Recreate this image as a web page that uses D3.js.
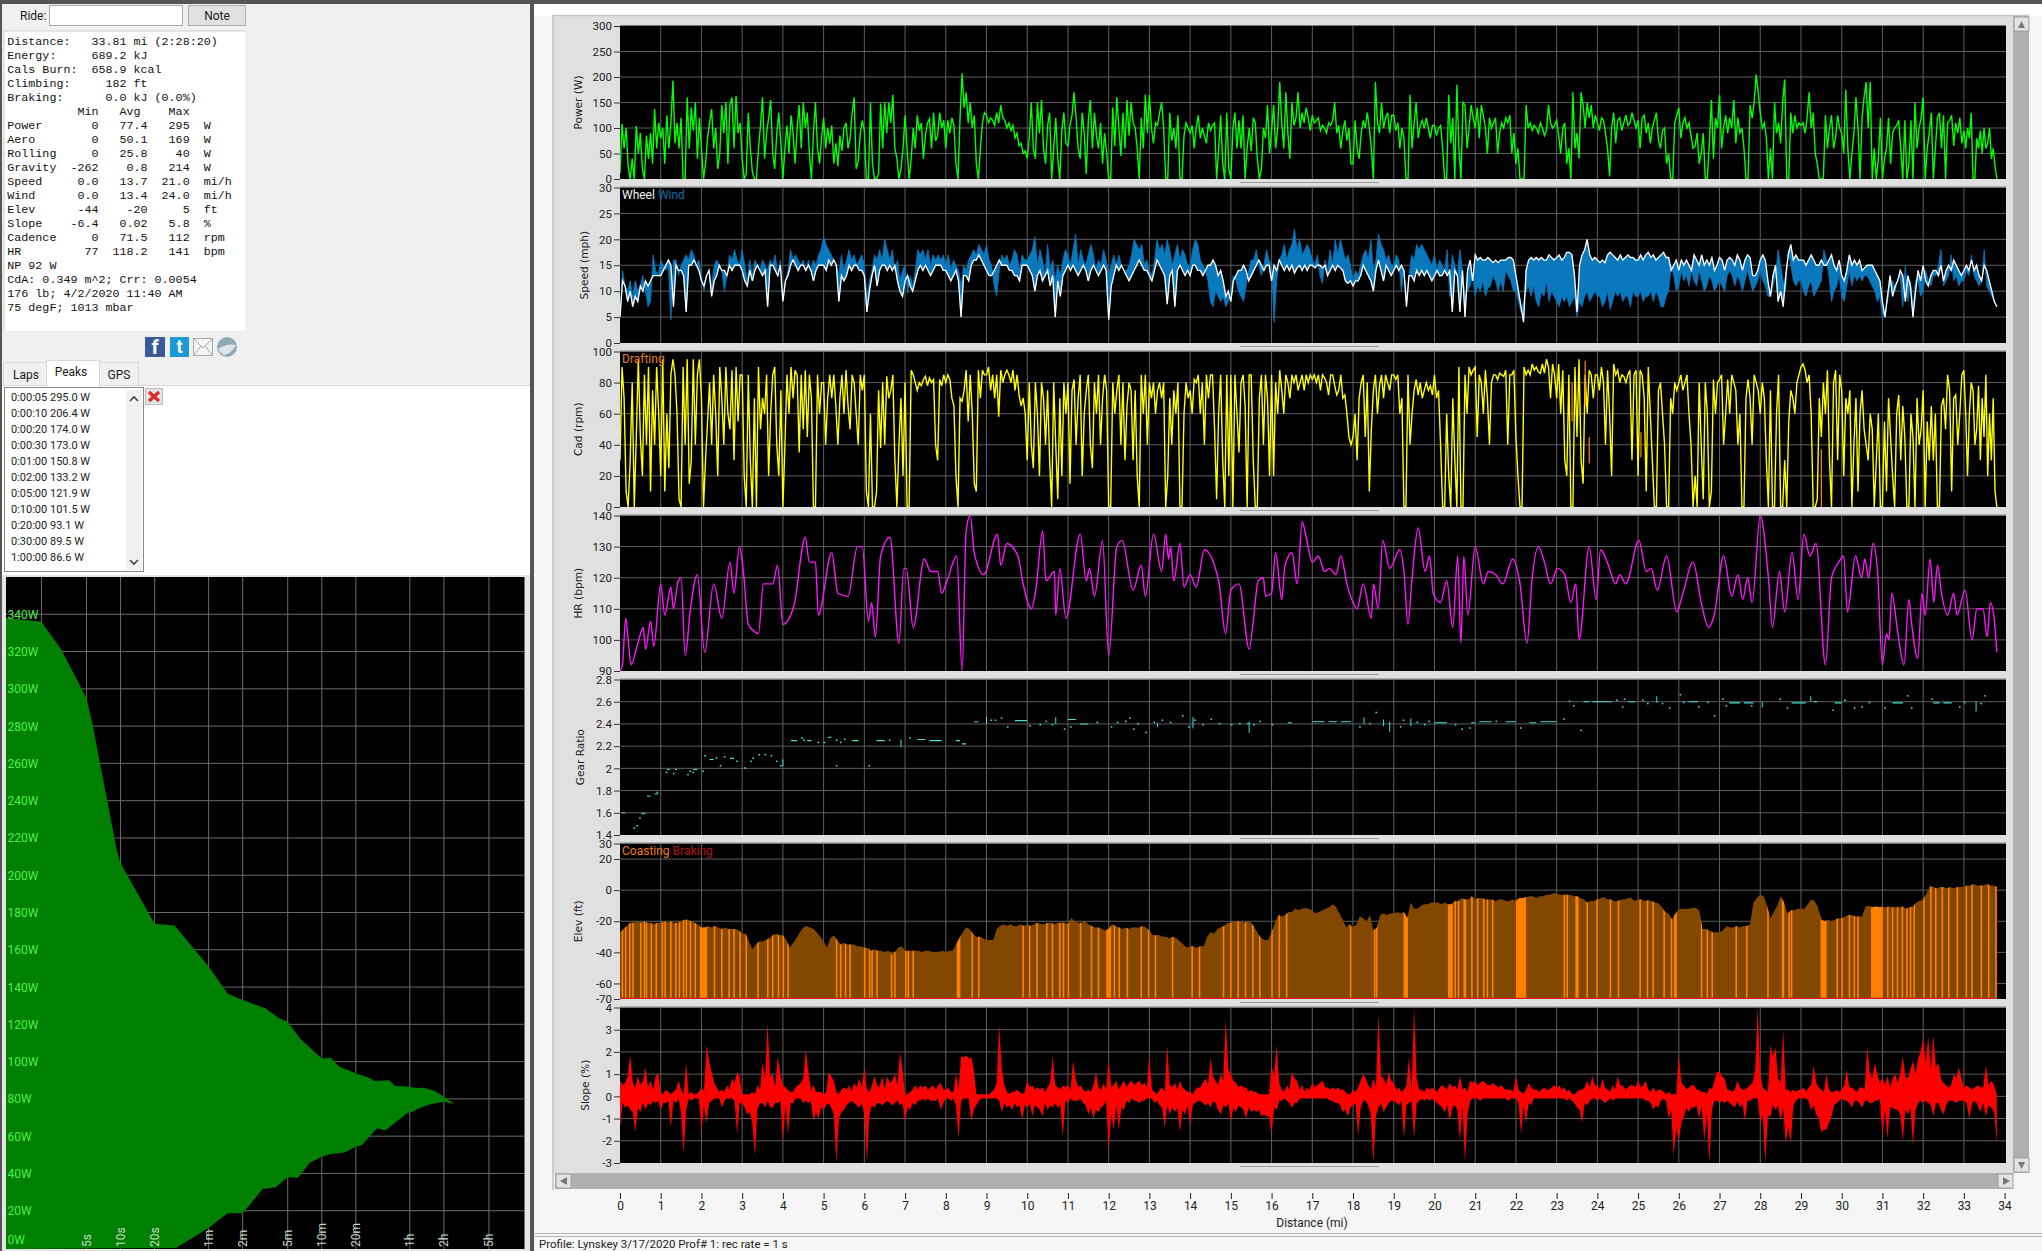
<!DOCTYPE html>
<html><head><meta charset="utf-8">
<script src="https://cdn.jsdelivr.net/npm/d3@7"></script>
<style>html,body{margin:0;padding:0;background:#f0f0f0;overflow:hidden}svg{display:block}text{white-space:pre}</style>
</head><body><svg id="c" width="2042" height="1251"></svg>
<script>
// ---------- ride summary ----------
const statLines=["Distance:   33.81 mi (2:28:20)","Energy:     689.2 kJ","Cals Burn:  658.9 kcal","Climbing:     182 ft","Braking:      0.0 kJ (0.0%)","          Min   Avg    Max","Power       0   77.4   295  W","Aero        0   50.1   169  W","Rolling     0   25.8    40  W","Gravity  -262    0.8   214  W","Speed     0.0   13.7  21.0  mi/h","Wind      0.0   13.4  24.0  mi/h","Elev      -44    -20     5  ft","Slope    -6.4   0.02   5.8  %","Cadence     0   71.5   112  rpm","HR         77  118.2   141  bpm","NP 92 W","CdA: 0.349 m^2; Crr: 0.0054","176 lb; 4/2/2020 11:40 AM","75 degF; 1013 mbar"];
const peakRows=["0:00:05 295.0 W","0:00:10 206.4 W","0:00:20 174.0 W","0:00:30 173.0 W","0:01:00 150.8 W","0:02:00 133.2 W","0:05:00 121.9 W","0:10:00 101.5 W","0:20:00 93.1 W","0:30:00 89.5 W","1:00:00 86.6 W"];
// ---------- power curve ----------
const curveUpSec=[1,2,3,5,5.7,6.25,9.3,10,20,30,60,88,120,190,252,300,383,600,720,856,1200,1609,1740,2366,2650,3400,4100,4780,6000,7200,8900];
const curveUpW=[338,336,321,295,280,267,213,206.4,174,173,151,136.6,133,128.6,123.3,121.4,112.6,101.7,102.1,97.3,93.7,91.1,89.6,90,86.9,86.6,85.8,86,84.2,81.2,77.3];
const curveLowSec=[7200,5600,4860,4300,3800,3400,3010,2180,1850,1360,1200,950,720,600,470,370,300,235,180,120,88,60,30.8];
const curveLowW=[78.5,77.2,76.2,74.8,73.1,72.4,69.7,63,64.3,55.3,54.3,51.2,50.4,49,45.8,37.7,37.9,32.6,31.7,18.7,18.6,10.7,0];
const curveWattTicks=[0,20,40,60,80,100,120,140,160,180,200,220,240,260,280,300,320,340];
const curveGridSec=[2,5,10,20,60,120,300,600,1200,3600,7200,18000];
const curveTimeLabels=[[5,"5s"],[10,"10s"],[20,"20s"],[60,"1m"],[120,"2m"],[300,"5m"],[600,"10m"],[1200,"20m"],[3600,"1h"],[7200,"2h"],[18000,"5h"]];
// ---------- ride series: one row per mile ----------
const power=[
[12,108,60,100,25,0,40,0,104,50,90,20,0,85,40,90,30,137,60,110],
[80,100,30,125,60,110,193,70,110,60,120,0,0,160,60,140,95,150,40,120],
[60,0,30,80,110,137,60,100,20,50,145,90,150,30,145,160,60,163,90,110],
[40,0,10,130,60,15,0,0,60,105,160,40,90,120,155,50,20,90,130,70],
[0,60,105,50,125,90,30,100,145,60,150,100,130,50,0,90,150,60,30,80],
[120,60,100,70,105,30,70,25,85,55,100,110,60,80,130,160,20,35,90,115],
[95,0,0,150,30,0,0,10,148,60,150,90,150,110,165,60,40,0,20,60],
[125,60,0,40,100,60,125,95,110,40,85,110,118,60,130,75,85,130,100,115],
[60,115,90,120,105,30,0,120,207,140,170,110,150,100,125,30,0,60,110,130],
[125,110,120,115,105,130,110,145,120,115,100,110,95,105,80,90,65,70,50,55],
[40,80,150,60,40,150,90,155,60,30,105,130,0,60,120,40,0,95,130,70],
[65,105,125,170,120,60,40,130,90,10,115,155,60,130,85,60,110,30,90,50],
[0,0,140,65,160,100,45,130,60,155,85,150,110,100,60,0,120,60,165,90],
[165,100,70,110,105,130,150,100,0,0,130,75,100,60,125,0,0,85,110,100],
[90,105,60,100,125,80,100,85,70,110,95,105,110,0,60,125,30,0,130,20],
[0,100,130,60,115,60,125,0,60,100,55,120,110,40,0,20,100,80,145,50],
[95,145,60,100,190,110,60,170,90,40,150,105,120,170,100,130,110,140,120,95],
[125,110,115,120,95,105,100,90,110,105,115,150,90,105,60,95,115,75,100,30],
[30,115,60,40,90,115,100,130,100,60,0,190,110,90,150,100,120,130,90,125],
[125,95,110,60,100,80,0,0,165,60,110,150,80,105,115,100,120,100,80,105],
[105,85,100,105,60,0,0,165,70,120,0,185,60,0,150,145,60,100,145,120],
[100,140,80,145,125,100,50,120,100,110,120,50,90,110,100,120,110,125,50,90],
[30,60,0,0,0,145,100,110,95,105,100,90,110,100,85,95,145,110,100,105],
[115,85,50,100,110,30,60,0,170,60,90,40,170,145,100,150,120,145,100,125],
[110,95,120,115,90,60,5,100,130,70,115,120,95,110,125,105,110,130,115,100],
[115,60,120,125,90,110,70,100,115,130,75,60,95,100,30,50,0,0,110,125],
[140,80,110,120,100,110,85,60,65,90,30,50,90,0,0,70,155,40,120,100],
[165,60,100,125,90,120,100,155,70,120,90,100,60,0,0,145,120,150,205,170],
[130,100,110,80,0,60,0,150,90,110,70,150,195,0,0,130,90,125,100,110],
[105,110,90,120,170,100,130,50,30,0,0,0,125,60,100,125,60,80,125,100],
[90,50,175,60,0,50,90,160,100,0,120,160,190,100,190,0,60,0,40,120],
[0,40,60,120,30,90,100,105,115,60,0,115,0,30,115,0,150,60,100,120],
[160,0,60,90,130,0,60,120,130,60,125,0,110,115,125,65,110,90,120,70],
[95,60,100,80,130,0,0,80,60,95,50,100,60,70,100,40,60,25,0]];
const wheel=[
[5,12,11,8,10,7,9,8,11,10,12,11,12,13,13,13],[13,14,15,16,15,7,15,14,14,13,6,15,15,16,15,14],[12,11,13,14,9,12,13,15,14,14,13,15,14,15,15,15],[14,12,11,14,12,14,15,14,13,14,7,15,15,14,13,15],
[8,12,13,15,16,15,14,15,15,14,15,14,12,14,15,15],[15,14,16,15,16,15,8,13,12,13,15,14,15,15,14,14],[13,6,10,13,15,11,14,15,15,14,15,14,15,12,10,9],[12,13,11,10,12,14,15,14,15,14,13,14,15,15,15,14],
[14,13,12,13,14,12,5,13,13,12,15,16,16,17,16,15],[14,13,13,14,15,16,15,15,15,14,14,13,13,12,15,15],[15,14,13,10,13,14,12,13,14,11,13,5,12,9,13,14],[15,14,15,14,13,14,15,14,12,14,15,14,13,14,15,14],
[4.5,11,13,15,14,15,14,13,12,13,14,15,16,15,14,14],[13,12,14,16,15,14,13,7.5,13,14,7,14,15,14,13,14],[13,15,15,14,14,13,14,15,15,16,15,13,14,12,9,10],[8,12,13,14,14,15,14,12,13,14,15,16,15,14,15,15],
[12,15,14,16,15,14,15,14,15,13.5,14.5,15,14,15,14,15],[15,14.5,15,15,14.5,15,13,14,15,14,15,14.5,14,12,11.5,12],[11,12,12,13,15,14,13,12,10,14,16,14,12,15,14,13],[14,15,14,15,14,7,13,13,12,14,13,14,13,14,13,12],
[13,14,13,13,14,13,14,6,14,13,6,14,5,14,16,12],[17,16,16.5,16,16,16.5,16,15.5,16,15.5,16,16,16,16.5,16.5,16],[13,10,7,4,14,16,16.5,16,16.5,16,16.5,16,16,17,16.5,16],[16.5,17,16,16.5,17.5,17.5,17,13,6,15,17,18,20,17,16,16.5],
[16,15.5,16,15.5,17,17.5,17,16.5,16,17,16,16.5,17,16.5,16.5,16],[16,17,16,17,17.5,16.5,17,16,16.5,17,17.5,16.5,16.5,14,15,16],[14,16,15,16,15,14,17,16,15,17,15,16,15,16.5,14,15],[16.5,16,14,16,16.5,16,15,17,16,14,16,17,16.5,13,13,14],
[16,17,16,12,9,13,15,8,10,7,13,17,19,16,17,16],[16,16,15,16,17,16,15,15,16,15,15,16,17,15,14,16],[13,12,14,17,15,16,15,16,14,14.5,15,15,15,14,13,12],[8,5,9,13,9,11,12,14,13,8,13,11,5,10,14,12],
[15,12,11,13,14,14,13,15,12,14,15,14,16,15,14,13],[14,15,14,16,14,15,13,12,15,14,12,10,8,7]];
const wind=[
[5,14,11,10,12,9,12,10,11,13,10,7,8,17,14,13],[16,15,14,15,4.5,16,16,13,15,16,17,16,18,17,15,16],[13,10,13,14,11,15,16,15,14,10,13,17,16,18,16,15],[18,15,12,16,13,16,15,14,16,15,14,16,15,17,13,16],
[8.5,12,14,18,16,17,16,15,16,14,16,14,16,15,17,18],[20.5,19,18,17,16,15,13,17,14,16,18,16,17,15,16,17],[15,9,12,14,17,16,18,16,20,18,16,18,14,16,12,14],[15,9.5,13,11,14,18,17,18,16,18,15,17,16,17,16,17],
[15,17,14,16,15,14,11,15,14,16,17,18,17,19,18,17],[19,16,15,11,9,14,17,16,17,15,16,18,17,14,17,16],[16,17,18,20.5,15,18,16,13,19,14,16,12,15,13,16,18],[17,15,18,21,15,18,16,15,17,19,17,14,16,15,18,16],
[13,15,17,15,17,15,14,14,15,17,20,19,18,19,15,16],[14,13,16,20,18,19,17,20,18,15,17,19,16,18,17,15],[15,18,20,19,16,15,14,12,8,7,10,9,8,9,7,8],[10,13,12,10,9,8,11,14,16,16,18,15,13,15,18,16],
[15,4,12,16,17,19,16,18,19,22,18,20,17,18,19,18],[16,15,17,13,11.5,16,14,18,15,20,17,20,18,16,17,15],[12,14,13,15,17,18,16,20,14,16,21,19,18,16,17,15],[15,17,16,10,14,9,13,17,16,19,18,19,18,17,16,15],
[17,14,16,15,14,18,9,17,15,13,18,14,9,10,11,13],[9,11,10,12,9,10.5,11,13,12,10,12,10,14,13,12,10],[10,8,6,8,10,11,9,11,8,7,10,9,12,8,10,9],[8,7,9,8,9,7,8,9,5,8,7,9,10,8,9,10],
[9,9,7,8,10,6.5,8,10,9,10,8,9,9,7,10,9],[9,10,8,9,9,10,8,10,9,7,7,9,10,15,13,10],[11,14,12,13,11,14,12,11,14,12,10,11,13,12,10,11],[12,11,10,13,14,13,11,13,12,10,12,14,12,10,11,12],
[14,12,11,9,9,11,13,18,15,12,10,18,15,12,11,12],[12,10,9,11,12,9,10,11,12,18,16,13,8,10,11,13],[9,8,11,14,11,13,12,13,12,13,13,12,11,10,8,9],[5,6,8,11,12,10,12,13,7,15,8,12,7,12,12,9],
[10,14,12,11,13,13,15,18,11,12,13,17,12,13,11,12],[12,14,13,17,13,12,11,12,18,11,10,9,8,7]];
const cadence=[
[30,90,70,10,0,30,80,0,45,95,45,20,85,40,90,10,75,40,90,60],
[20,95,10,60,25,85,95,85,60,5,0,90,40,95,15,30,95,40,85,95],
[70,0,30,55,80,40,85,60,20,90,70,40,90,60,50,88,30,90,55,85],
[85,20,0,85,30,0,70,0,90,50,70,60,85,20,60,85,90,40,20,75],
[0,40,85,60,90,70,88,85,35,85,50,88,45,85,70,0,0,85,60,80],
[80,40,70,85,70,85,65,40,70,85,60,88,65,50,85,80,60,40,85,75],
[85,10,0,60,0,0,10,75,38,80,40,84,70,75,85,30,0,40,70,20],
[80,0,0,88,85,80,75,80,78,82,84,78,83,80,82,40,30,82,78,85],
[80,85,82,70,65,20,0,70,68,75,88,55,85,60,15,10,88,70,88,85],
[85,90,75,85,70,85,58,88,80,85,88,85,80,88,75,85,72,65,70,60],
[30,80,40,25,80,60,20,80,70,40,75,30,0,80,40,5,70,20,80,60],
[80,15,75,82,40,70,85,20,60,75,85,40,25,80,60,85,40,70,85,75],
[0,0,80,60,75,85,40,80,30,65,80,75,30,75,20,0,85,60,85,40],
[80,70,80,60,75,80,70,80,0,20,70,40,75,60,80,0,0,60,80,70],
[75,60,82,80,85,60,80,40,85,70,85,85,50,5,60,85,30,0,85,20],
[85,0,85,60,35,80,85,65,0,85,85,30,0,0,70,85,40,85,70,20],
[85,20,80,60,88,75,60,85,80,70,85,80,85,75,80,85,75,85,80,85],
[82,85,80,85,75,85,83,80,72,85,85,78,72,75,85,70,72,60,45,40],
[45,60,30,70,80,85,45,80,10,50,75,85,60,78,85,70,85,80,75,85],
[85,82,85,60,70,0,0,85,40,60,75,82,72,80,70,75,80,75,78,72],
[85,70,75,40,0,0,60,20,0,70,30,0,90,0,0,85,60,90,85,88],
[90,45,85,80,60,88,70,40,80,85,85,82,86,85,84,88,40,85,85,88],
[45,20,0,0,90,85,88,85,92,88,90,87,86,92,86,95,90,70,92,85],
[70,92,60,88,30,20,85,0,0,90,45,95,30,15,85,60,88,85,70,85],
[85,75,90,80,40,88,60,20,92,85,88,80,85,84,80,85,88,30,85,88],
[20,88,85,70,10,90,60,30,0,0,75,80,60,40,0,0,70,60,80,75],
[80,85,75,80,85,60,40,0,20,0,80,40,5,80,60,0,10,82,60,80],
[82,85,40,60,82,60,85,80,75,40,60,0,0,70,82,70,40,85,80,75],
[60,80,70,30,0,75,0,0,60,85,0,0,30,0,55,75,70,60,80,85],
[90,92,88,80,85,60,0,0,5,70,45,80,60,88,30,0,80,88,30,85],
[75,20,70,60,75,0,40,70,10,60,75,50,40,30,60,50,0,30,60,0],
[0,55,10,70,45,20,0,60,72,30,65,45,0,0,60,45,0,70,40,50],
[75,0,55,30,65,30,60,0,0,65,70,50,85,75,10,70,72,40,60,85],
[88,60,20,60,80,75,40,50,78,30,70,45,85,20,60,30,70,10,0]];
const draftMile=[23.38,23.7,23.8,24.45,25.07,29.5];
const draftFrom=[55,65,28,86,32,0];
const draftTo=[80,94,45,88,48,37];
const hrMile=[0,.06,.14,.2,.27,.44,.57,.63,.75,.83,1,1.1,1.25,1.31,1.43,1.5,1.6,1.73,1.9,2.08,2.3,2.5,2.7,2.8,2.93,3.03,3.15,3.27,3.4,3.52,3.75,3.87,4,4.27,4.55,4.65,4.8,4.87,5.2,5.35,5.6,5.83,5.95,6.1,6.18,6.27,6.4,6.63,6.85,6.97,7.03,7.2,7.47,7.63,7.8,7.9,8.03,8.27,8.4,8.5,8.6,8.7,8.93,9.27,9.35,9.5,9.77,9.9,10.1,10.2,10.38,10.46,10.67,10.7,10.8,10.95,11.3,11.45,11.53,11.65,11.85,12,12.2,12.33,12.6,12.8,12.9,13.1,13.3,13.4,13.47,13.52,13.6,13.75,13.85,14,14.15,14.35,14.7,14.87,15,15.2,15.45,15.55,15.67,15.8,15.85,16,16.1,16.25,16.33,16.5,16.63,16.75,16.85,17,17.15,17.3,17.42,17.58,17.7,17.85,18,18.1,18.25,18.45,18.5,18.62,18.73,18.9,19.15,19.25,19.35,19.45,19.6,19.77,19.88,19.97,20.15,20.3,20.45,20.57,20.65,20.72,20.82,21,21.2,21.32,21.5,21.68,21.92,22.1,22.27,22.4,22.55,22.7,22.85,23.02,23.2,23.35,23.47,23.55,23.8,23.97,24.08,24.27,24.45,24.55,24.7,25.02,25.2,25.32,25.47,25.7,25.95,26.1,26.35,26.55,26.73,26.87,27.1,27.3,27.45,27.57,27.69,27.8,28,28.2,28.3,28.47,28.6,28.78,28.93,29.07,29.22,29.37,29.6,29.75,29.93,30.05,30.14,30.34,30.49,30.57,30.66,30.77,30.88,31,31.1,31.16,31.23,31.38,31.53,31.65,31.71,31.87,31.97,32.05,32.17,32.26,32.35,32.45,32.6,32.75,32.83,33.03,33.2,33.32,33.47,33.57,33.65,33.75,33.81];
const hrBpm=[90,92,107,100,92,99,104,97,106,98,118,108,117,110,119,120,95,110,121,96,118,107,125,115,130,122,105,103,102,118,118,124,105,111,133,125,125,108,128,115,114,130,130,106,112,101,127,133,99,123,123,104,126,122,122,115,119,127,90,135,140,128,121,134,124,131,127,118,110,115,135,119,122,108,123,107,134,119,123,114,132,95,130,132,116,124,114,134,122,134,126,130,119,131,117,121,117,129,119,102,116,118,97,106,119,120,114,115,128,113,124,128,118,138,133,125,127,122,123,121,127,118,112,110,118,107,118,110,132,123,129,122,105,120,136,122,127,115,112,119,104,127,99,127,108,130,118,122,121,118,126,118,99,120,130,125,118,123,121,112,118,100,130,113,129,124,118,121,118,132,122,123,116,127,109,115,125,112,104,108,127,114,121,113,120,112,140,120,104,122,109,128,113,134,127,131,92,120,125,127,109,127,120,126,120,131,122,92,102,100,115,102,92,113,106,94,115,108,126,112,124,115,108,115,108,116,100,110,110,101,112,106,96];
const gearDots=[[.33,1.47],[.4,1.49],[.47,1.56],[.53,1.6],[.58,1.6],[.9,1.79],[1.12,1.97],[1.3,1.96],[1.65,1.95],[1.7,1.98],[1.78,1.97],[2.02,1.98],[2.07,2.12],[2.35,2.1],[2.45,2.03],[2.55,2.11],[2.85,2.07],[3.05,2.01],[3.2,2.07],[3.25,2.1],[3.4,2.13],[3.55,2.13],[3.7,2.12],[3.83,2.07],[3.93,2.03],[5.3,2.03],[6.1,2.03],[4.45,2.28],[4.5,2.26],[4.85,2.24],[5,2.24],[5.3,2.26],[5.4,2.24],[5.5,2.27],[6.6,2.26],[7.1,2.28],[9.1,2.44],[9.2,2.44],[9.35,2.46],[9.5,2.38],[10.05,2.39],[10.3,2.4],[10.45,2.43],[10.6,2.4],[10.9,2.36],[11.05,2.38],[11.7,2.42],[12.05,2.38],[12.2,2.42],[12.4,2.43],[12.5,2.46],[12.6,2.36],[12.7,2.41],[12.9,2.33],[13.1,2.42],[13.3,2.44],[13.5,2.42],[13.8,2.48],[13.95,2.38],[14.1,2.44],[14.3,2.4],[14.5,2.45],[14.7,2.41],[15,2.4],[15.2,2.41],[15.4,2.41],[15.55,2.4],[15.7,2.43],[16,2.4],[18.15,2.38],[18.4,2.41],[18.55,2.51],[19.15,2.38],[19.22,2.44],[19.56,2.42],[19.74,2.4],[19.85,2.43],[20.5,2.4],[20.66,2.36],[20.85,2.37],[21.5,2.43],[22.1,2.37],[23.16,2.45],[23.58,2.35],[23.3,2.61],[23.4,2.57],[24.46,2.62],[24.6,2.56],[24.65,2.63],[25.1,2.62],[25.22,2.59],[25.58,2.59],[25.76,2.55],[26.02,2.67],[26.1,2.6],[26.7,2.6],[26.47,2.56],[26.86,2.48],[27.06,2.63],[27.15,2.57],[27.77,2.57],[28.47,2.63],[28.65,2.55],[29.77,2.53],[30.06,2.62],[30.3,2.55],[30.48,2.56],[30.66,2.6],[31.04,2.55],[31.6,2.66],[31.7,2.55],[32.2,2.63],[32.88,2.56],[33,2.6],[33.4,2.59],[33.5,2.66]];
const gearDashes=[[.05,.12,1.6],[.66,.75,1.75],[.85,.93,1.77],[1.15,1.22,1.99],[1.35,1.4,1.99],[1.8,1.9,1.99],[2.2,2.3,2.08],[2.7,2.8,2.09],[4.2,4.35,2.25],[4.6,4.7,2.25],[5.1,5.2,2.28],[5.7,5.85,2.25],[6.3,6.5,2.25],[7.3,7.5,2.26],[7.6,7.9,2.25],[8.25,8.35,2.25],[8.4,8.5,2.22],[8.7,8.8,2.42],[9.7,10,2.43],[11,11.2,2.44],[11.3,11.5,2.4],[16.4,16.5,2.41],[17,17.3,2.42],[17.4,17.6,2.42],[17.7,17.95,2.42],[20,20.3,2.41],[20.9,21,2.41],[21.1,21.4,2.42],[21.75,22,2.42],[22.33,22.5,2.41],[22.6,23,2.42],[23.66,23.8,2.6],[23.87,24.35,2.6],[24.75,24.93,2.6],[26.24,26.47,2.6],[27.24,27.5,2.59],[27.6,27.83,2.59],[28.77,29.12,2.59],[29.3,29.4,2.6],[29.83,30,2.59],[31.25,31.5,2.59],[32.25,32.4,2.59],[32.5,32.7,2.59]];
const gearStems=[[4,2.02,2.08],[6.9,2.19,2.26],[9,2.4,2.46],[10.7,2.4,2.46],[14.07,2.36,2.46],[13.2,2.37,2.41],[15.45,2.32,2.42],[18.27,2.4,2.46],[18.75,2.38,2.44],[18.9,2.33,2.42],[19.42,2.38,2.45],[25.46,2.59,2.65],[28.05,2.55,2.6],[29.24,2.6,2.65],[33.3,2.51,2.6]];
const elev=[
[-27,-25,-23,-21,-21,-20,-21,-20,-21,-21,-22,-21],[-21,-20,-21,-20,-21,-21,-20,-19,-19,-20,-21,-22],[-24,-24,-23,-24,-23,-24,-25,-24,-25,-25,-25,-26],[-28,-28,-33,-38,-35,-33,-33,-32,-31,-29,-28,-29],
[-29,-32,-37,-34,-31,-27,-24,-23,-24,-25,-27,-30],[-33,-37,-31,-29,-32,-35,-34,-35,-35,-35,-36,-36],[-37,-37,-39,-38,-39,-39,-40,-39,-41,-40,-37,-36],[-39,-39,-39,-39,-39,-40,-39,-39,-40,-40,-40,-39],
[-40,-39,-39,-35,-31,-27,-24,-25,-28,-30,-30,-31],[-32,-32,-32,-25,-23,-22,-23,-22,-23,-23,-22,-23],[-22,-23,-22,-21,-22,-22,-21,-21,-22,-21,-21,-21],[-22,-18,-20,-21,-21,-20,-22,-23,-24,-24,-25,-26],
[-25,-22,-23,-24,-25,-24,-25,-24,-24,-24,-23,-24],[-26,-29,-29,-29,-30,-30,-31,-30,-31,-33,-35,-37],[-36,-36,-37,-36,-36,-30,-27,-28,-25,-24,-23,-21],[-21,-20,-20,-20,-21,-20,-21,-24,-28,-31,-32,-32],
[-27,-21,-16,-17,-16,-14,-14,-12,-13,-12,-11.5,-12],[-13,-15,-14,-13,-12,-11,-9,-11,-15,-19,-24,-22],[-24,-22,-17,-18,-20,-16,-26,-24,-16,-15,-16,-15],[-15,-14,-15,-14,-18,-8,-12,-12,-10,-9,-9,-8],
[-8,-8,-9,-8,-9,-9,-7,-7,-5,-6,-6,-4],[-6,-5,-5,-6,-6,-6,-7,-6,-6,-7,-7,-6],[-7,-5,-5,-4.5,-4,-4,-5,-4,-4,-3,-3,-2],[-2,-3,-3,-3,-3,-4,-4,-5,-6,-8,-7,-7],
[-6,-5,-4.5,-6,-6,-7,-7,-6,-6,-5,-5,-7],[-6,-6,-7,-6.5,-7,-8,-8.5,-11,-14,-15,-19,-15],[-12.5,-12,-12,-12,-11.5,-11.5,-13,-25,-25,-26,-27,-27],[-27,-26,-23,-24,-24,-23,-24,-23,-23,-22,-8,-5],
[-3,-4,-10,-18,-14,-10,-4,-8,-15,-13,-13,-12],[-12,-12,-9,-6,-7,-11,-19,-20,-19,-20,-19,-18],[-18,-17,-16,-16,-17,-17,-17,-10.5,-10,-11,-10.5,-11],[-10.5,-11,-10.5,-11,-11,-11,-10.5,-12,-11,-10.5,-8,-7],
[-6,-2,2.5,2,1,2,2,1,2,1,2,2],[2,3,3,4,3,3,3,4,3,3,2]];
const coastThin=[.06,.14,.24,.32,.51,.6,.65,.77,.89,1.04,1.11,1.25,1.37,1.46,1.56,1.63,1.73,1.85,2.32,2.5,2.68,2.8,2.95,3.1,3.39,3.63,3.75,3.89,4.01,4.13,5.32,5.42,5.54,5.65,6.01,6.13,6.19,6.31,6.67,6.75,7.02,7.08,7.2,8.65,8.81,9.9,10.06,10.24,10.48,10.62,10.8,10.89,11.01,11.31,11.58,11.75,12.14,12.26,12.46,12.8,12.98,13.15,13.57,14.05,14.23,14.82,15,15.18,15.36,15.54,15.71,16.01,16.19,16.37,17.94,18.53,18.58,20.51,20.59,20.92,21.06,21.21,21.3,21.43,23.19,23.26,23.75,23.99,24.32,24.52,25.05,25.23,25.37,25.64,25.82,26.56,26.7,26.82,27.41,27.67,28.19,28.71,28.77,29.89,30.01,30.19,30.31,30.4,31.13,31.25,31.37,31.49,31.6,31.69,31.78,32.02,32.19,32.31,32.47,32.63,32.84,33.06,33.2,33.43,33.61,33.79];
const coastBandFrom=[1.96,8.27,11.94,19.24,20.33,20.71,22,23.46,25.88,28.53,29.48,30.72];
const coastBandTo=[2.14,8.36,12.06,19.35,20.45,20.78,22.25,23.54,25.95,28.59,29.63,31.01];
const slopeUp=[
[.7,.5,.6,.9,1.85,.6,.4,.9,.5,.7,1.3,.4,.7,.3,.9,1.05],[.2,.1,.3,.2,.1,.2,.3,.7,.3,.1,1.5,.1,.2,.1,.1,.2],[.4,.2,2.3,1.6,1.1,.6,.4,.2,.3,.2,.5,.3,.8,.6,1.1,.9],[.1,.1,.1,.1,.2,.1,.5,.3,1.5,.8,3.3,.9,1,.4,1.8,1],
[.5,.4,.3,.2,.2,.4,.5,.6,.8,2.1,1.1,.3,.5,.2,.2,.2],[.1,.2,1.1,.9,.7,.2,.1,.3,.4,.3,.5,.2,.6,.4,.8,.4],[1.3,.3,.2,.5,.9,.5,.4,.9,.3,.9,.6,.7,1,.5,2,1.2],[.1,.1,.2,.3,.5,.3,.5,.4,.5,.3,.4,.5,.3,.5,.6,.3],
[.3,.4,.2,.2,1,.3,1.8,1.75,1.85,1.7,1.75,1.2,.1,.1,.1,.1],[.1,.1,.2,.3,.6,3.2,1.2,.5,.2,.1,.2,.2,.3,.2,.1,.2],[.7,.4,.5,.3,.4,.3,.4,.2,.4,.6,1.8,.5,.4,.3,.5,.4],[.5,.3,1.6,.8,.4,.5,.3,.2,.3,.2,.5,1.1,.4,.3,.6,.3],
[1.6,.4,.5,.7,.3,.5,.7,.4,.6,.7,.5,.6,.7,.5,.6,.4],[1.8,.3,.2,.1,.3,.4,.2,2.3,.5,.4,.6,.3,.7,.4,.3,.2],[.2,.1,.3,.4,.4,.6,.8,.5,1.7,.9,.7,.5,1,.7,3.5,1.2],[1,.7,.6,.4,.5,.4,.4,.2,.3,.2,.2,.1,.1,.1,.1,.1],
[1.4,.9,2.3,.6,.3,.2,.5,.3,1.1,.8,.7,.3,.5,.2,.4,.3],[.6,.4,.5,.6,.7,.4,.4,.3,.4,.3,.4,.3,.3,.2,.1,.1],[.3,.2,.4,.7,1,.8,.5,.3,.8,.4,3.7,.9,.8,.5,1.1,.7],[.6,.3,.4,.2,.3,.5,1.8,.2,4,.8,.3,.3,.2,.4,.3,.4],
[.3,.2,.4,.5,.4,.3,.6,.4,.5,.3,.9,.3,.4,.2,.7,.6],[.7,.5,.6,.7,.6,.5,.5,.6,.5,.4,.5,.4,.3,.3,.3,.2],[.9,.3,.2,.1,.3,.6,.4,.3,.3,.2,.3,.4,.3,.3,.4,.5],[.4,.5,.3,.4,.2,.3,.1,.1,.2,.3,.3,.4,.7,.4,.9,.5],
[.5,.3,.8,.4,.3,.2,.5,.3,.9,.5,.5,.3,.4,.5,.5,.4],[.7,.4,.5,.7,.3,.2,.4,.2,.3,.3,.2,.1,.2,.1,.1,.1],[1.9,.6,.5,.3,.4,.5,.5,.3,.3,.2,.2,.1,.4,.3,.7,1.1],[1.1,.9,.8,.3,.3,.2,.3,.7,.4,.3,.3,.4,.5,.6,1.2,4],
[1,.4,.3,.2,2.3,1.8,2.2,.8,.6,3,.3,.3,.2,.3,.2,.3],[.3,.4,.2,.4,.5,1.4,.6,.4,.3,.2,1,.3,.2,.2,.3,.2],[.3,.5,1.2,.4,.4,.3,.2,.4,.4,.3,2.2,1.1,.8,1.5,1,.6],[.8,.5,.9,.4,.8,1,.6,1,1.8,.9,.8,1.2,1.6,1,1.7,2],
[2.6,1.5,2.7,1.2,2.75,1.3,1.5,.8,.6,.5,.4,.5,1,.8,1.3,.8],[.4,.5,.4,.3,.4,.5,.4,.4,1.4,.5,.7,.5,.05]];
const slopeDown=[
[-1.4,-.3,-.5,-.4,-.6,-.7,-1.6,-.5,-.7,-.3,-.6,-.3,-.4,-.2,-.3,-.2],[-.6,-.3,-.3,-.2,-1.4,-.2,-.3,-.1,-.7,-2.6,-.6,-.1,-.2,-.1,-.1,-.1],[-1.6,-.4,-1.2,-.3,-.2,-.1,-.1,-.1,-.5,-.2,-.1,-.1,-.1,-.2,-1.7,-.3],[-.3,-.5,-.8,-.7,-1.2,-2.7,-.6,-.3,-.3,-.5,-.2,-.5,-.5,-.3,-.3,-.2],
[-2,-.4,-1.7,-.3,-.3,-.1,-.1,-.1,-.3,-.2,-.3,-.2,-1.1,-.7,-1,-.5],[-.6,-.4,-.3,-.5,-.8,-3,-1,-.7,-.6,-.4,-.3,-.2,-.3,-.4,-.5,-.3],[-.8,-3,-.8,-.4,-.5,-.3,-.3,-.4,-.3,-.2,-.3,-.4,-.3,-.2,-.4,-.3],[-1.1,-.5,-.6,-.3,-.4,-.2,-.2,-.1,-.2,-.1,-.2,-.2,-.2,-.1,-.6,-.3],
[-.1,-.1,-.2,-.1,-.4,-1.9,-.2,-.1,-.1,-.1,-1.1,-.6,-.4,-.2,-.1,-.1],[-.1,-.1,-.1,-.1,-.1,-.2,-.7,-.3,-.5,-.4,-.6,-.3,-.5,-.4,-1.05,-.4],[-.5,-.3,-.9,-.4,-.5,-.6,-.9,-.3,-.6,-.4,-.5,-.3,-.5,-.4,-1.8,-.2],[-.3,-.1,-.2,-.2,-.2,-.1,-.3,-.4,-.8,-.5,-1,-.6,-.7,-.5,-.4,-.2],
[-2.4,-.8,-1.5,-.4,-1.5,-.5,-.6,-.2,-.3,-.1,-.2,-.2,-.3,-.2,-.2,-.1],[-.1,-.1,-.3,-.2,-.4,-.5,-1.4,-.4,-.8,-.5,-.7,-.5,-1.6,-.6,-.8,-.4],[-1.3,-.4,-.3,-.2,-.2,-.3,-.4,-.3,-.5,-.2,-.3,-.6,-.8,-.4,-.5,-.3],[-1.1,-.5,-.7,-.4,-.5,-.6,-1,-.5,-.7,-.6,-.7,-.6,-.9,-.8,-.9,-.9],
[-1.7,-.5,-.6,-.2,-.2,-.1,-.2,-.3,-.5,-.3,-.3,-.1,-.1,-.1,-.1,-.1],[-.1,-.1,-.1,-.1,-.1,-.1,-.1,-.2,-.2,-.3,-.3,-.4,-.7,-.6,-.9,-.5],[-.4,-.3,-1.8,-.5,-.2,-.2,-.4,-.8,-3,-.9,-.5,-.3,-.7,-.5,-.3,-.2],[-.2,-.3,-.4,-.2,-1.9,-.4,-.3,-.2,-1.9,-.3,-.2,-.1,-.2,-.1,-.2,-.1],
[-.2,-.3,-.4,-.5,-.7,-.4,-1.1,-.5,-.4,-.6,-2,-.4,-3,-.8,-.2,-.1],[-.1,-.1,-.2,-.1,-.1,-.1,-.1,-.1,-.1,-.1,-.1,-.1,-.1,-.2,-.1,-.1],[-.1,-.3,-1.7,-.4,-1.2,-.3,-.4,-.1,-.1,-.1,-.1,-.1,-.1,-.1,-.1,-.1],[-.1,-.1,-.1,-.1,-.2,-.1,-.2,-.3,-.5,-.6,-1.2,-.3,-.4,-.2,-.1,-.1],
[-.2,-.1,-.2,-.3,-.2,-.1,-.2,-.1,-.1,-.1,-.1,-.1,-.1,-.1,-.1,-.1],[-.1,-.1,-.1,-.2,-.2,-.3,-.6,-.4,-.5,-.2,-.1,-.2,-1,-.6,-2.7,-1.4],[-2,-1.2,-.9,-.5,-.7,-.5,-.5,-.4,-1,-.4,-2,-.7,-3,-.6,-.2,-.2],[-.3,-.2,-.3,-.2,-.3,-.4,-.5,-.2,-.5,-.3,-1.1,-.2,-.2,-.1,-.1,-.1],
[-1.2,-.8,-3,-.9,-.9,-.4,-.6,-.4,-1.1,-.5,-2.1,-1.4,-2.1,-.4,-.2,-.1],[-.1,-.1,-.1,-.2,-.6,-.4,-.8,-1,-1.6,-1.5,-1.5,-1.2,-.9,-.4,-.3,-.2],[-.1,-.2,-.2,-.3,-.5,-.2,-.2,-.3,-.5,-.2,-.2,-.3,-.3,-.2,-.2,-.1],[-1.8,-.6,-1.9,-.5,-.5,-.6,-.6,-.8,-2,-.6,-.8,-.5,-2.2,-.6,-.3,-.2],
[-.3,-.2,-.3,-.4,-.9,-.3,-.3,-.6,-.8,-.4,-.2,-.2,-.2,-.3,-.2,-.2],[-.2,-.3,-1,-.3,-.2,-.4,-.7,-.3,-.9,-.4,-.5,-.7,-2.1]];
// ---------- tick labels ----------
const mileTicks=d3.range(0,35);
const powerTicks=[0,50,100,150,200,250,300];
const speedTicks=[0,5,10,15,20,25,30];
const cadTicks=[0,20,40,60,80,100];
const hrTicks=[90,100,110,120,130,140];
const gearTicks=[1.4,1.6,1.8,2,2.2,2.4,2.6,2.8];
const elevTicks=[-70,-60,-40,-20,0,20,30];
const slopeTicks=[-3,-2,-1,0,1,2,3,4];

// ---------- layout ----------
const UI="Roboto,'Noto Sans',sans-serif";
const svg=d3.select("#c");
const rect=(g,x,y,w,h,f,s)=>g.append("rect").attr("x",x).attr("y",y).attr("width",w).attr("height",h).attr("fill",f).attr("stroke",s||"none");
const label=(g,x,y,t,o={})=>g.append("text").attr("x",x).attr("y",y).text(t).attr("font-family",o.font||UI).attr("font-size",o.size||12).attr("fill",o.fill||"#1a1a1a").attr("text-anchor",o.anchor||"start").attr("font-weight",o.weight||"normal");

rect(svg,0,0,2042,1251,"#f0f0f0");
rect(svg,0,0,2042,4,"#555");
rect(svg,0,0,2,1251,"#555");
rect(svg,530,0,4,1251,"#555");

// ---------- left column ----------
const left=svg.append("g");
label(left,20,20,"Ride:");
rect(left,49.5,5.5,133,20,"#fff","#a8a8a8");
rect(left,188.5,5.5,57,20,"#e1e1e1","#adadad");
label(left,217,20,"Note",{anchor:"middle"});
rect(left,4,31,241,300,"#fff");
left.append("path").attr("d","M4 331V31H245").attr("fill","none").attr("stroke","#cfcfcf");
statLines.forEach((t,i)=>label(left,7.3,45+i*14,t,{font:"'Liberation Mono',monospace",size:11.7,fill:"#111"}));
rect(left,145,337,20,20,"#3b5998");
label(left,155,354,"f",{fill:"#fff",size:20,anchor:"middle",weight:"bold"});
rect(left,170,337,19,20,"#1c9ad6");
label(left,179.5,353,"t",{fill:"#fff",size:18,anchor:"middle",weight:"bold"});
rect(left,193.5,338.5,19,17,"#f4f4f4","#a9a9a9");
left.append("path").attr("d","M194 339L203 348L212 339M194 355L201 346M212 355L205 346").attr("fill","none").attr("stroke","#a9a9a9");
left.append("circle").attr("cx",227).attr("cy",347).attr("r",10).attr("fill","#8fa9b8");
left.append("path").attr("d","M218 349Q227 343 236 345Q232 353 224 355Q220 353 218 349Z").attr("fill","#dfe6ea");
rect(left,2,385,528,190,"#fff");
left.append("path").attr("d","M2 385.5H530").attr("stroke","#d9d9d9");
rect(left,3.5,362.5,43,23,"#f0f0f0","#d9d9d9");
rect(left,99.5,362.5,39,23,"#f0f0f0","#d9d9d9");
rect(left,46.5,360.5,53,26,"#fff","#d9d9d9");
rect(left,47,384,52,3,"#fff");
label(left,26,379,"Laps",{anchor:"middle"});
label(left,71,376,"Peaks",{anchor:"middle"});
label(left,119,379,"GPS",{anchor:"middle"});
rect(left,4.5,387.5,139,184,"#fff","#828790");
rect(left,126,390,16,180,"#f0f0f0");
left.append("path").attr("d","M130 401L134 397L138 401M130 560L134 564L138 560").attr("fill","none").attr("stroke","#444").attr("stroke-width",1.6);
peakRows.forEach((t,i)=>label(left,11,401+i*16,t,{size:11,fill:"#222"}));
rect(left,145.5,388.5,17,16,"#e4e4e4","#bdbdbd");
left.append("path").attr("d","M149 392L159 401M159 392L149 401").attr("stroke","#e02828").attr("stroke-width",3.2);

// power curve
const curve=svg.append("g");
const cx=d3.scaleLog().domain([1,36000]).range([7.4,523]);
const cy=d3.scaleLinear().domain([0,360]).range([1248,577]);
rect(curve,2,575,528,676,"#e6e6e6");
rect(curve,6,577,518.5,672,"#000");
curve.selectAll(".cg").data(curveGridSec).join("line").attr("x1",d=>cx(d)).attr("x2",d=>cx(d)).attr("y1",577).attr("y2",1249).attr("stroke","#6a6a6a");
curve.selectAll(".ch").data(curveWattTicks.slice(1)).join("line").attr("x1",6).attr("x2",524.5).attr("y1",d=>cy(d)).attr("y2",d=>cy(d)).attr("stroke","#6a6a6a");
const curvePts=curveUpSec.map((t,i)=>[t,curveUpW[i]]).concat(curveLowSec.map((t,i)=>[t,curveLowW[i]]));
const curveLine=d3.line().x(d=>cx(d[0])).y(d=>cy(d[1]));
curve.append("path").attr("d",curveLine(curvePts)+`L${cx(1)-1.4} ${cy(0)+1}L${cx(1)-1.4} ${cy(338)}Z`).attr("fill","#008000");
curveWattTicks.forEach(w=>label(curve,7.5,w===0?1244:cy(w)+4.5,w+"W",{size:12,fill:"#4fef4f"}));
curveTimeLabels.forEach(([t,s])=>curve.append("text").text(s).attr("transform",`translate(${cx(t)+4.5},1247) rotate(-90)`).attr("font-family",UI).attr("font-size",12).attr("fill","#c9dcc9"));

// ---------- right frame ----------
rect(svg,534,4,1508,1247,"#f6f6f6");
rect(svg,534,4,1508,12,"#ffffff");
rect(svg,552,16,1461,1157,"#e0e0e0");
svg.append("path").attr("d","M553 1190V15.5H2029").attr("fill","none").attr("stroke","#c4c4c4").attr("stroke-width",1.5);
rect(svg,2013,16,16,1157,"#b0b0b0");
rect(svg,2014,17,15,14,"#e2e2e2","#a0a0a0");
rect(svg,2014,1158,15,14,"#e2e2e2","#a0a0a0");
rect(svg,555,1173,1458,16,"#b0b0b0");
rect(svg,556,1174,15,14,"#e2e2e2","#a0a0a0");
rect(svg,1998,1174,15,14,"#e2e2e2","#a0a0a0");
svg.append("path").attr("d","M2018 28L2021.5 21L2025 28ZM2018 1162L2021.5 1169L2025 1162ZM567 1177L560 1181L567 1185ZM2003 1177L2010 1181L2003 1185Z").attr("fill","#777");
svg.append("path").attr("d","M534 1233.5H2042M534 1236.5H2042").attr("stroke","#b5b5b5");
label(svg,539,1248,"Profile: Lynskey 3/17/2020 Prof# 1: rec rate = 1 s",{size:11.5,fill:"#222"});

const xM=d3.scaleLinear().domain([0,34]).range([620,2004.6]);
const milePos=(m,j,n)=>m===33?33+.81*j/(n-1):m+j/n;
const flat=rows=>rows.flatMap((r,m)=>r.map((v,j)=>[milePos(m,j,r.length),v]));

function panel(top,bottom,dom,ticks,title,titleX,id){
  const g=svg.append("g");
  const y=d3.scaleLinear().domain(dom).range([bottom,top]);
  rect(g,620,top,1386,bottom-top,"#000");
  g.append("path").attr("d",`M620 ${top-.5}H2006`).attr("stroke","#7c7c7c");
  g.append("clipPath").attr("id",id).append("rect").attr("x",620).attr("y",top).attr("width",1386).attr("height",bottom-top);
  g.selectAll(".gx").data(mileTicks.slice(1,34)).join("line").attr("x1",d=>xM(d)).attr("x2",d=>xM(d)).attr("y1",top).attr("y2",bottom).attr("stroke","#5f5f5f");
  g.selectAll(".gy").data(ticks.filter(t=>y(t)>top+1&&y(t)<bottom-1)).join("line").attr("x1",620).attr("x2",2006).attr("y1",d=>y(d)).attr("y2",d=>y(d)).attr("stroke","#5f5f5f");
  const ax=g.append("g").attr("transform","translate(620,0)").call(d3.axisLeft(y).tickValues(ticks).tickSize(6).tickPadding(2).tickFormat(d=>String(d)));
  ax.select(".domain").remove();
  ax.selectAll("line").attr("stroke","#333");
  ax.selectAll("text").attr("font-family",UI).attr("font-size",11.5).attr("fill","#222");
  g.append("text").text(title).attr("transform",`translate(${titleX},${(top+bottom)/2}) rotate(-90)`).attr("text-anchor","middle").attr("font-family","'DejaVu Sans',sans-serif").attr("font-size",10.6).attr("fill","#222");
  g.append("path").attr("d",`M1240 ${bottom+3.5}H1379`).attr("stroke","#9a9a9a");
  const plot=g.append("g").attr("clip-path",`url(#${id})`);
  return {g,y,plot};
}
const lineOf=(y)=>d3.line().x(d=>xM(d[0])).y(d=>y(d[1]));

// Power
{const p=panel(26,179,[0,300],powerTicks,"Power (W)",582,"cp1");
 p.plot.append("path").attr("d",lineOf(p.y)(flat(power))).attr("fill","none").attr("stroke","#00ff00").attr("stroke-width",1.4);}
// Speed
{const p=panel(187.5,343,[0,30],speedTicks,"Speed (mph)",588,"cp2");
 const pairs=wheel.flatMap((r,m)=>r.map((v,j)=>[milePos(m,j,r.length),v,wind[m][Math.min(j,wind[m].length-1)]]));
 p.plot.append("path").attr("d",d3.area().x(d=>xM(d[0])).y0(d=>p.y(d[1])).y1(d=>p.y(d[2]))(pairs)).attr("fill","#0a78bd").attr("stroke","#0a78bd").attr("stroke-width",.8);
 p.plot.append("path").attr("d",lineOf(p.y)(pairs)).attr("fill","none").attr("stroke","#fff").attr("stroke-width",1.3);
 const t=label(p.g,622,199,"Wheel",{fill:"#f2f2f2"});t.append("tspan").attr("dx",3).attr("fill","#0f6fa8").text("Wind");}
// Cadence
{const p=panel(351.5,507,[0,100],cadTicks,"Cad (rpm)",582,"cp3");
 p.plot.append("path").attr("d",lineOf(p.y)(flat(cadence))).attr("fill","none").attr("stroke","#ffff00").attr("stroke-width",1.4);
 p.plot.selectAll(".dr").data(draftMile).join("line").attr("x1",d=>xM(d)).attr("x2",d=>xM(d)).attr("y1",(d,i)=>p.y(draftFrom[i])).attr("y2",(d,i)=>p.y(draftTo[i])).attr("stroke","#ff8a10").attr("stroke-width",1.2);
 label(p.g,622,363,"Drafting",{fill:"#e07a20"});}
// HR
{const p=panel(515.5,671,[90,140],hrTicks,"HR (bpm)",582,"cp4");
 p.plot.append("path").attr("d",d3.line().curve(d3.curveMonotoneX).x(d=>xM(d[0])).y(d=>p.y(d[1]))(hrMile.map((m,i)=>[m,hrBpm[i]]))).attr("fill","none").attr("stroke","#ff14ff").attr("stroke-width",1.4);}
// Gear
{const p=panel(679.5,835,[1.4,2.8],gearTicks,"Gear Ratio",584,"cp5");
 const c="#46e0da";
 p.plot.selectAll(".d").data(gearDots).join("rect").attr("x",d=>xM(d[0])).attr("y",d=>p.y(d[1])).attr("width",1.6).attr("height",1.5).attr("fill",c);
 p.plot.selectAll(".da").data(gearDashes).join("line").attr("x1",d=>xM(d[0])).attr("x2",d=>xM(d[1])).attr("y1",d=>p.y(d[2])).attr("y2",d=>p.y(d[2])).attr("stroke",c).attr("stroke-width",1.1);
 p.plot.selectAll(".st").data(gearStems).join("line").attr("x1",d=>xM(d[0])).attr("x2",d=>xM(d[0])).attr("y1",d=>p.y(d[1])).attr("y2",d=>p.y(d[2])).attr("stroke",c).attr("stroke-width",1);}
// Elev
{const p=panel(843.5,999,[-70,30],elevTicks,"Elev (ft)",582,"cp6");
 const ar=d3.area().x(d=>xM(d[0])).y0(p.y(-70)).y1(d=>p.y(d[1]))(flat(elev));
 p.g.append("clipPath").attr("id","elevClip").append("path").attr("d",ar);
 p.plot.append("path").attr("d",ar).attr("fill","#834800");
 const st=p.plot.append("g").attr("clip-path","url(#elevClip)");
 st.selectAll(".s").data(coastThin).join("line").attr("x1",d=>xM(d)).attr("x2",d=>xM(d)).attr("y1",p.y(30)).attr("y2",p.y(-70)).attr("stroke","#ff8000").attr("stroke-width",1.6);
 st.selectAll(".b").data(coastBandFrom).join("rect").attr("x",d=>xM(d)).attr("width",(d,i)=>xM(coastBandTo[i])-xM(d)).attr("y",p.y(30)).attr("height",p.y(-70)-p.y(30)).attr("fill","#ff8000");
 p.plot.append("line").attr("x1",620).attr("x2",xM(33.81)).attr("y1",p.y(-70)-.7).attr("y2",p.y(-70)-.7).attr("stroke","#d81a1a").attr("stroke-width",1.3);
 const t=label(p.g,622,855,"Coasting",{fill:"#f07c10"});t.append("tspan").attr("dx",3).attr("fill","#b81010").text("Braking");}
// Slope
{const p=panel(1007.5,1163,[-3,4],slopeTicks,"Slope (%)",589,"cp7");
 const ar=d3.area().x(d=>xM(d[0])).y0(p.y(0)).y1(d=>p.y(d[1]));
 p.plot.append("path").attr("d",ar(flat(slopeUp))).attr("fill","#ff0000");
 p.plot.append("path").attr("d",ar(flat(slopeDown))).attr("fill","#ff0000");
 p.plot.append("line").attr("x1",620).attr("x2",xM(33.81)).attr("y1",p.y(0)).attr("y2",p.y(0)).attr("stroke","#ff0000");}
// Distance axis
{const ax=svg.append("g").attr("transform","translate(0,1193)").call(d3.axisBottom(xM).tickValues(mileTicks).tickSize(6).tickPadding(2).tickFormat(d=>String(d)));
 ax.select(".domain").remove();
 ax.selectAll("line").attr("stroke","#222");
 ax.selectAll("text").attr("font-family",UI).attr("font-size",12).attr("fill","#222");
 label(svg,1312,1227,"Distance (mi)",{anchor:"middle",size:12,fill:"#222"});}
</script></body></html>
